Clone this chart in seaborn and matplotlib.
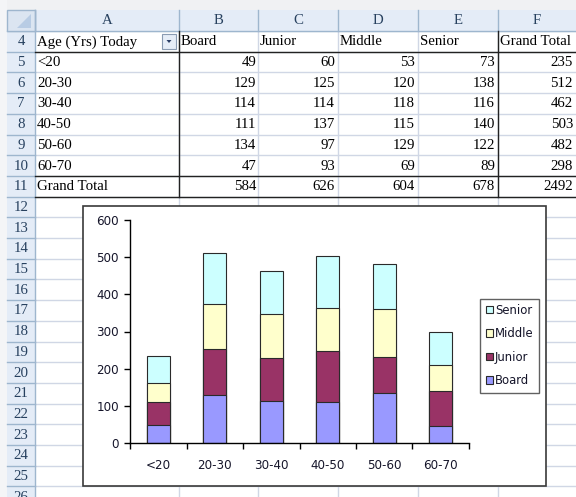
import numpy as np
import pandas as pd
import matplotlib
matplotlib.use("Agg")
import matplotlib.pyplot as plt
from matplotlib.patches import Rectangle, Patch, Polygon
import seaborn as sns

# ---------------- data ----------------
ages = ["<20", "20-30", "30-40", "40-50", "50-60", "60-70"]
board = [49, 129, 114, 111, 134, 47]
junior = [60, 125, 114, 137, 97, 93]
middle = [53, 120, 118, 115, 129, 69]
senior = [73, 138, 116, 140, 122, 89]
series_names = ["Board", "Junior", "Middle", "Senior"]
series_colors = ["#9999FF", "#993366", "#FFFFCC", "#CCFFFF"]
col_letters = ["A", "B", "C", "D", "E", "F"]
row_numbers = list(range(4, 27))
y_ticks = [0, 100, 200, 300, 400, 500, 600]

df = pd.DataFrame({"Age": ages, "Board": board, "Junior": junior,
                   "Middle": middle, "Senior": senior})
df["Grand Total"] = df[series_names].sum(axis=1)

# ---------------- figure ----------------
W, H = 576, 497
fig = plt.figure(figsize=(W / 100, H / 100), dpi=100)
bg = fig.add_axes([0, 0, 1, 1], zorder=0)
bg.set_xlim(0, W)
bg.set_ylim(H, 0)
bg.axis("off")

serif = "Liberation Serif"
fs = 10.7
hdr_fill = "#e4ecf7"
hdr_line = "#9eb6ce"
grid_col = "#d0d7e5"
hdr_text = "#27415f"

# top strip & left strip
bg.add_patch(Rectangle((0, 0), W, 10, facecolor="#f0f1f3", edgecolor="none"))
bg.add_patch(Rectangle((0, 0), 7, H, facecolor="#f4f5f7", edgecolor="none"))

col_edges = [35, 179, 258, 338, 418, 498, 600]
row_top = 31
rh = 20.7

# grid lines
for k in range(0, 24):
    y = row_top + k * rh
    bg.plot([35, W], [y, y], color=grid_col, lw=1, zorder=1)
for x in col_edges[1:-1]:
    bg.plot([x, x], [row_top, H], color=grid_col, lw=1, zorder=1)

# column header row
bg.add_patch(Rectangle((7, 10), W - 7, 21, facecolor=hdr_fill, edgecolor="none", zorder=2))
for x in col_edges[:-1]:
    bg.plot([x, x], [10, 31], color=hdr_line, lw=1, zorder=3)
bg.plot([7, W], [31, 31], color=hdr_line, lw=1, zorder=3)
for i, L in enumerate(col_letters):
    cx = (col_edges[i] + col_edges[i + 1]) / 2
    if L == "F":
        cx = 537
    bg.text(cx, 21, L, family=serif, fontsize=fs, color=hdr_text,
            ha="center", va="center", zorder=4)
# corner cell
bg.add_patch(Rectangle((7, 10), 28, 21, facecolor="#dbe5f1", edgecolor=hdr_line, lw=1, zorder=3))
bg.add_patch(Polygon([[31, 14], [31, 28], [17, 28]], closed=True,
                     facecolor="#b8cce4", edgecolor="none", zorder=4))

# row header column
bg.add_patch(Rectangle((7, 31), 28, H - 31, facecolor=hdr_fill, edgecolor="none", zorder=2))
bg.plot([35, 35], [10, H], color=hdr_line, lw=1, zorder=3)
for k, n in enumerate(row_numbers):
    y = row_top + k * rh
    bg.plot([7, 35], [y + rh, y + rh], color=hdr_line, lw=1, zorder=3)
    bg.text(21, y + rh / 2 + 0.5, str(n), family=serif, fontsize=fs, color=hdr_text,
            ha="center", va="center", zorder=4)

# pivot table text
def row_y(n):
    return row_top + (n - 4) * rh + rh / 2 + 0.5

headers = ["Age (Yrs) Today"] + series_names + ["Grand Total"]
for i, h in enumerate(headers):
    bg.text(col_edges[i] + 2, row_y(4), h, family=serif, fontsize=fs,
            color="black", ha="left", va="center", zorder=4)

right_edges = [256, 335, 415, 495, 573]
value_cols = series_names + ["Grand Total"]
for r, age in enumerate(ages):
    n = 5 + r
    bg.text(37, row_y(n), age, family=serif, fontsize=fs, ha="left", va="center", zorder=4)
    for j, c in enumerate(value_cols):
        bg.text(right_edges[j], row_y(n), str(int(df[c].iloc[r])), family=serif,
                fontsize=fs, ha="right", va="center", zorder=4)
bg.text(37, row_y(11), "Grand Total", family=serif, fontsize=fs, ha="left", va="center", zorder=4)
for j, c in enumerate(value_cols):
    bg.text(right_edges[j], row_y(11), str(int(df[c].sum())), family=serif,
            fontsize=fs, ha="right", va="center", zorder=4)

# pivot borders
y4b = row_top + rh
y11t = row_top + 7 * rh
y11b = row_top + 8 * rh
for y in (y4b, y11t, y11b):
    bg.plot([35, W], [y, y], color="#222222", lw=1, zorder=5)
for x in (179, 498):
    bg.plot([x, x], [row_top, y11b], color="#222222", lw=1, zorder=5)

# dropdown button
bg.add_patch(Rectangle((162, 34), 14, 15, facecolor="#e6edf7", edgecolor="#8a9bb2", lw=0.8, zorder=6))
bg.add_patch(Polygon([[166.5, 40], [171.5, 40], [169, 43]], closed=True,
                     facecolor="#2b3f66", edgecolor="none", zorder=7))

# chart area
bg.add_patch(Rectangle((83, 206), 546 - 83, 486 - 206, facecolor="white",
                       edgecolor="#3a3a3a", lw=1.2, zorder=8))

# ---------------- chart ----------------
x0, x1, y0, y1 = 130, 469, 443, 220
ax = fig.add_axes([x0 / W, (H - y0) / H, (x1 - x0) / W, (y0 - y1) / H], zorder=2)
ax.set_facecolor("none")

cum = df[series_names].cumsum(axis=1)
for name, col in reversed(list(zip(series_names, series_colors))):
    sns.barplot(x=df["Age"], y=cum[name], order=ages, color=col, saturation=1,
                width=0.4, edgecolor="#2a2a2a", linewidth=0.8, errorbar=None, ax=ax)

ax.set_xlim(-0.5, len(ages) - 0.5)
ax.set_ylim(0, 600)
ax.set_yticks(y_ticks)
ax.set_xlabel("")
ax.set_ylabel("")
for s in ("top", "right"):
    ax.spines[s].set_visible(False)
for s in ("left", "bottom"):
    ax.spines[s].set_color("black")
    ax.spines[s].set_linewidth(1)
tick_color = "#15152a"
tfs = 8.6
ax.set_xticks(range(len(ages)))
ax.set_xticklabels(ages)
ax.set_xticks(np.arange(-0.5, len(ages), 1.0), minor=True)
ax.tick_params(axis="x", which="major", length=0, pad=11.5, labelsize=tfs, labelcolor=tick_color)
ax.tick_params(axis="x", which="minor", length=4, width=1, direction="out", color="black")
ax.tick_params(axis="y", which="major", length=4, width=1, pad=4, labelsize=tfs,
               labelcolor=tick_color, color="black")

handles = [Patch(facecolor=c, edgecolor="#2a2a2a", linewidth=0.8, label=n)
           for n, c in zip(series_names, series_colors)][::-1]
leg = fig.legend(handles=handles, loc="center",
                 bbox_to_anchor=(509.5 / W, 1 - 345.5 / H), bbox_transform=fig.transFigure,
                 fontsize=8.4, frameon=True, fancybox=False, handlelength=0.6,
                 handleheight=0.6, handletextpad=0.2, labelspacing=0.9,
                 borderpad=0.45, borderaxespad=0, labelcolor=tick_color)
leg.get_frame().set_edgecolor("#3a3a3a")
leg.get_frame().set_linewidth(1)
leg.set_zorder(10)

fig.savefig("out.png", dpi=100)
